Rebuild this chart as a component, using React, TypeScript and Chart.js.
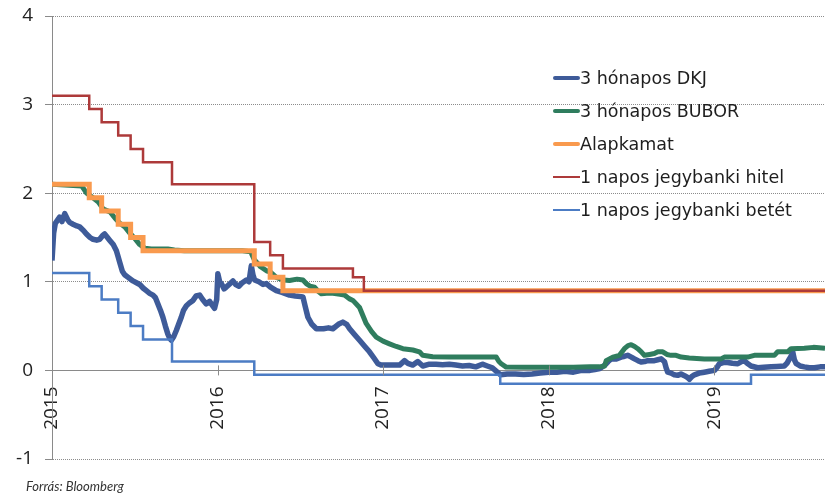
import React, { useEffect, useRef } from "react";
import { Chart, registerables } from "chart.js";

Chart.register(...registerables);

// ---- Data (decimal years) ----
const yearTicks = [2015, 2016, 2017, 2018, 2019];
const yTicks = [-1, 0, 1, 2, 3, 4];
const xMin = 2015;
const xMax = 2019.67;

const seriesLabels = [
  "3 hónapos DKJ",
  "3 hónapos BUBOR",
  "Alapkamat",
  "1 napos jegybanki hitel",
  "1 napos jegybanki betét",
];

const dkjDates = [
  2015.000, 2015.010, 2015.020, 2015.046, 2015.060, 2015.077, 2015.095, 2015.107, 2015.127, 2015.150,
  2015.167, 2015.190, 2015.208, 2015.230, 2015.248, 2015.270, 2015.288, 2015.305, 2015.318, 2015.335,
  2015.348, 2015.370, 2015.389, 2015.400, 2015.409, 2015.425, 2015.439, 2015.460, 2015.489, 2015.510,
  2015.530, 2015.550, 2015.570, 2015.590, 2015.610, 2015.625, 2015.640, 2015.655, 2015.670, 2015.685,
  2015.700, 2015.712, 2015.721, 2015.735, 2015.751, 2015.765, 2015.781, 2015.795, 2015.812, 2015.830,
  2015.852, 2015.870, 2015.892, 2015.910, 2015.932, 2015.952, 2015.970, 2015.982, 2015.995, 2016.002,
  2016.013, 2016.023, 2016.040, 2016.053, 2016.070, 2016.093, 2016.110, 2016.130, 2016.150, 2016.174,
  2016.190, 2016.204, 2016.214, 2016.224, 2016.250, 2016.275, 2016.295, 2016.320, 2016.355, 2016.390,
  2016.435, 2016.470, 2016.516, 2016.530, 2016.546, 2016.570, 2016.597, 2016.640, 2016.670, 2016.697,
  2016.730, 2016.757, 2016.780, 2016.798, 2016.830, 2016.858, 2016.890, 2016.918, 2016.945, 2016.969,
  2016.990, 2017.030, 2017.070, 2017.100, 2017.130, 2017.150, 2017.180, 2017.210, 2017.240, 2017.280,
  2017.320, 2017.360, 2017.400, 2017.440, 2017.480, 2017.520, 2017.560, 2017.600, 2017.630, 2017.660,
  2017.690, 2017.710, 2017.750, 2017.800, 2017.850, 2017.900, 2017.950, 2018.000, 2018.050, 2018.100,
  2018.150, 2018.200, 2018.250, 2018.280, 2018.310, 2018.340, 2018.360, 2018.378, 2018.410, 2018.438,
  2018.460, 2018.478, 2018.500, 2018.519, 2018.540, 2018.559, 2018.580, 2018.599, 2018.620, 2018.639,
  2018.660, 2018.680, 2018.700, 2018.710, 2018.720, 2018.740, 2018.760, 2018.780, 2018.800, 2018.821,
  2018.840, 2018.851, 2018.865, 2018.881, 2018.910, 2018.941, 2018.970, 2019.002, 2019.020, 2019.032,
  2019.060, 2019.082, 2019.110, 2019.143, 2019.165, 2019.183, 2019.200, 2019.223, 2019.263, 2019.300,
  2019.344, 2019.380, 2019.424, 2019.440, 2019.455, 2019.465, 2019.475, 2019.485, 2019.495, 2019.520,
  2019.545, 2019.575, 2019.606, 2019.640, 2019.670,
];
const dkjValues = [
  1.24, 1.55, 1.66, 1.73, 1.68, 1.77, 1.70, 1.67, 1.65, 1.63,
  1.62, 1.58, 1.54, 1.50, 1.48, 1.47, 1.48, 1.52, 1.54, 1.50,
  1.47, 1.42, 1.35, 1.28, 1.22, 1.12, 1.08, 1.05, 1.01, 0.99,
  0.97, 0.93, 0.90, 0.87, 0.85, 0.82, 0.75, 0.68, 0.60, 0.50,
  0.41, 0.36, 0.34, 0.38, 0.45, 0.52, 0.60, 0.68, 0.73, 0.76,
  0.79, 0.84, 0.85, 0.80, 0.75, 0.78, 0.73, 0.70, 0.80, 1.09,
  1.00, 0.98, 0.92, 0.94, 0.97, 1.01, 0.97, 0.95, 0.99, 1.02,
  1.00, 1.18, 1.08, 1.02, 1.00, 0.97, 0.98, 0.94, 0.90, 0.88,
  0.85, 0.84, 0.83, 0.72, 0.60, 0.52, 0.47, 0.47, 0.48, 0.47,
  0.52, 0.545, 0.52, 0.47, 0.40, 0.34, 0.27, 0.21, 0.14, 0.075,
  0.06, 0.06, 0.06, 0.06, 0.11, 0.08, 0.06, 0.10, 0.05, 0.07,
  0.07, 0.065, 0.07, 0.06, 0.05, 0.055, 0.04, 0.07, 0.05, 0.03,
  -0.02, -0.05, -0.04, -0.04, -0.045, -0.04, -0.03, -0.02, -0.02, -0.01,
  -0.02, 0.0, 0.0, 0.01, 0.02, 0.06, 0.10, 0.13, 0.13, 0.15,
  0.16, 0.17, 0.15, 0.13, 0.11, 0.094, 0.10, 0.11, 0.11, 0.11,
  0.12, 0.13, 0.10, 0.03, -0.02, -0.03, -0.05, -0.056, -0.04, -0.06,
  -0.08, -0.10, -0.07, -0.05, -0.03, -0.02, -0.01, 0.0, 0.04, 0.075,
  0.09, 0.09, 0.08, 0.075, 0.10, 0.11, 0.08, 0.05, 0.03, 0.035,
  0.04, 0.045, 0.05, 0.08, 0.13, 0.16, 0.21, 0.12, 0.08, 0.05,
  0.04, 0.03, 0.03, 0.04, 0.04,
];

const buborDates = [
  2015.000, 2015.180, 2015.210, 2015.240, 2015.280, 2015.310, 2015.350, 2015.380, 2015.410, 2015.440,
  2015.470, 2015.500, 2015.530, 2015.560, 2015.600, 2015.700, 2015.740, 2015.800, 2016.150, 2016.200,
  2016.222, 2016.260, 2016.300, 2016.320, 2016.355, 2016.400, 2016.435, 2016.480, 2016.516, 2016.536,
  2016.560, 2016.586, 2016.610, 2016.627, 2016.660, 2016.697, 2016.740, 2016.767, 2016.795, 2016.818,
  2016.858, 2016.878, 2016.898, 2016.930, 2016.959, 2017.000, 2017.039, 2017.080, 2017.120, 2017.180,
  2017.220, 2017.240, 2017.300, 2017.400, 2017.500, 2017.600, 2017.684, 2017.700, 2017.714, 2017.744,
  2017.850, 2018.000, 2018.150, 2018.250, 2018.307, 2018.338, 2018.348, 2018.368, 2018.388, 2018.428,
  2018.458, 2018.480, 2018.499, 2018.520, 2018.539, 2018.560, 2018.579, 2018.610, 2018.639, 2018.660,
  2018.690, 2018.715, 2018.740, 2018.770, 2018.801, 2018.850, 2018.941, 2019.000, 2019.042, 2019.062,
  2019.150, 2019.203, 2019.243, 2019.300, 2019.364, 2019.384, 2019.444, 2019.465, 2019.545, 2019.600,
  2019.670,
];
const buborValues = [
  2.10, 2.08, 2.00, 1.96, 1.90, 1.82, 1.79, 1.72, 1.66, 1.62,
  1.55, 1.49, 1.42, 1.38, 1.37, 1.37, 1.36, 1.35, 1.35, 1.34,
  1.25, 1.17, 1.12, 1.11, 1.05, 1.02, 1.015, 1.03, 1.02, 0.98,
  0.95, 0.94, 0.89, 0.865, 0.87, 0.87, 0.86, 0.85, 0.81, 0.79,
  0.71, 0.62, 0.53, 0.44, 0.376, 0.33, 0.30, 0.27, 0.245, 0.23,
  0.21, 0.17, 0.155, 0.15, 0.15, 0.15, 0.15, 0.10, 0.075, 0.037,
  0.035, 0.035, 0.035, 0.04, 0.04, 0.05, 0.11, 0.13, 0.15, 0.17,
  0.245, 0.28, 0.29, 0.27, 0.245, 0.21, 0.17, 0.18, 0.19, 0.21,
  0.21, 0.18, 0.17, 0.17, 0.15, 0.14, 0.13, 0.13, 0.13, 0.15,
  0.15, 0.15, 0.17, 0.17, 0.17, 0.21, 0.21, 0.245, 0.25, 0.26,
  0.25,
];

const alapDates = [2015.0, 2015.225, 2015.30, 2015.40, 2015.475, 2015.55, 2016.222, 2016.318, 2016.395, 2019.67];
const alapValues = [2.10, 1.95, 1.80, 1.65, 1.50, 1.35, 1.20, 1.05, 0.90, 0.90];

const hitelDates = [2015.0, 2015.225, 2015.30, 2015.40, 2015.475, 2015.55, 2015.725, 2016.222, 2016.318, 2016.395, 2016.818, 2016.884, 2019.67];
const hitelValues = [3.10, 2.95, 2.80, 2.65, 2.50, 2.35, 2.10, 1.45, 1.30, 1.15, 1.05, 0.90, 0.90];

const betetDates = [2015.0, 2015.225, 2015.30, 2015.40, 2015.475, 2015.55, 2015.725, 2016.222, 2017.708, 2019.223, 2019.67];
const betetValues = [1.10, 0.95, 0.80, 0.65, 0.50, 0.35, 0.10, -0.05, -0.15, -0.05, -0.05];

const colors = ["#3e5b99", "#2f7d5e", "#f99a4e", "#ad3a3a", "#4c7cc4"];
const widths = [5.5, 5, 5, 2.5, 2.5];

const toPts = (xs: number[], ys: number[]) => xs.map((x, i) => ({ x, y: ys[i] }));

// x-axis tick marks that cross the zero line (drawn via the scales)
const crossTicks = {
  id: "crossTicks",
  afterDatasetsDraw(chart: any) {
    const xs = chart.scales.x;
    const ys = chart.scales.y;
    const y0 = ys.getPixelForValue(0);
    const ctx = chart.ctx;
    ctx.save();
    ctx.strokeStyle = "#8a8a8a";
    ctx.lineWidth = 1;
    ctx.beginPath();
    yearTicks.forEach((v) => {
      const px = Math.round(xs.getPixelForValue(v)) + 0.5;
      ctx.moveTo(px, y0 - 5);
      ctx.lineTo(px, y0 + 5);
    });
    ctx.stroke();
    ctx.restore();
  },
};

export default function App() {
  const ref = useRef<HTMLCanvasElement | null>(null);

  useEffect(() => {
    if (!ref.current) return;
    Chart.defaults.font.family = "'Open Sans', sans-serif";
    const sets = [
      { pts: toPts(dkjDates, dkjValues), stepped: false },
      { pts: toPts(buborDates, buborValues), stepped: false },
      { pts: toPts(alapDates, alapValues), stepped: true },
      { pts: toPts(hitelDates, hitelValues), stepped: true },
      { pts: toPts(betetDates, betetValues), stepped: true },
    ];
    const chart = new Chart(ref.current, {
      type: "line",
      data: {
        datasets: sets.map((s, i) => ({
          label: seriesLabels[i],
          data: s.pts,
          borderColor: colors[i],
          backgroundColor: colors[i],
          borderWidth: widths[i],
          pointRadius: 0,
          tension: 0,
          stepped: s.stepped ? "before" : false,
          borderJoinStyle: i < 2 ? "round" : "miter",
          borderCapStyle: "butt",
          fill: false,
          order: 5 - i,
        })) as any,
      },
      plugins: [crossTicks],
      options: {
        animation: false,
        responsive: false,
        maintainAspectRatio: false,
        devicePixelRatio: 1,
        layout: { padding: { top: 16, right: 0, bottom: 35, left: 0 } },
        plugins: {
          legend: { display: false },
          tooltip: { enabled: false },
        },
        scales: {
          x: {
            type: "linear",
            min: xMin,
            max: xMax,
            position: { y: 0 } as any,
            afterBuildTicks: (s: any) => {
              s.ticks = yearTicks.map((v) => ({ value: v }));
            },
            afterFit: (s: any) => {
              s.paddingTop = 0;
              s.paddingBottom = 0;
            },
            ticks: {
              autoSkip: false,
              minRotation: 90,
              maxRotation: 90,
              padding: 16,
              color: "#222",
              font: { size: 19 },
              callback: (v: any) => String(v),
            },
            grid: {
              display: true,
              drawOnChartArea: false,
              drawTicks: false,
            },
            border: { display: true, color: "#8a8a8a", width: 1 },
          },
          y: {
            type: "linear",
            min: -1,
            max: 4,
            afterBuildTicks: (s: any) => {
              s.ticks = yTicks.map((v) => ({ value: v }));
            },
            afterFit: (s: any) => {
              s.width = 52;
              s.paddingTop = 0;
              s.paddingBottom = 0;
            },
            ticks: {
              padding: 12,
              color: "#222",
              font: { size: 19 },
              callback: (v: any) => String(v),
            },
            grid: {
              color: "#8c8c8c",
              lineWidth: 1,
              drawTicks: true,
              tickLength: 7,
              tickColor: "#8a8a8a",
              tickBorderDash: [],
            } as any,
            border: { display: true, color: "#8a8a8a", width: 1, dash: [1, 1] },
          },
        },
      } as any,
    });
    return () => chart.destroy();
  }, []);

  const legendTop = [78, 111, 144, 177, 210];

  return (
    <div style={{ position: "absolute", left: 0, top: 0, width: 825, height: 494, background: "#fff", overflow: "hidden" }}>
      <canvas ref={ref} width={825} height={494} style={{ width: 825, height: 494, display: "block" }} />
      {seriesLabels.map((lab, i) => (
        <div
          key={lab}
          style={{
            position: "absolute",
            left: 553,
            top: legendTop[i] - 12,
            height: 24,
            display: "flex",
            alignItems: "center",
            fontFamily: "'DejaVu Sans', sans-serif",
            fontSize: 17.5,
            color: "#1e1e1e",
            whiteSpace: "nowrap",
          }}
        >
          <span style={{ display: "inline-block", width: 27, height: i < 3 ? 4.5 : 2.5, background: colors[i], borderRadius: i < 3 ? 2 : 0 }} />
          <span>{lab}</span>
        </div>
      ))}
      <div
        style={{
          position: "absolute",
          left: 26,
          top: 478,
          fontFamily: "Lato, 'Open Sans', sans-serif",
          fontStyle: "italic",
          fontSize: 13,
          color: "#333",
          whiteSpace: "nowrap",
        }}
      >
        Forrás: Bloomberg
      </div>
    </div>
  );
}
